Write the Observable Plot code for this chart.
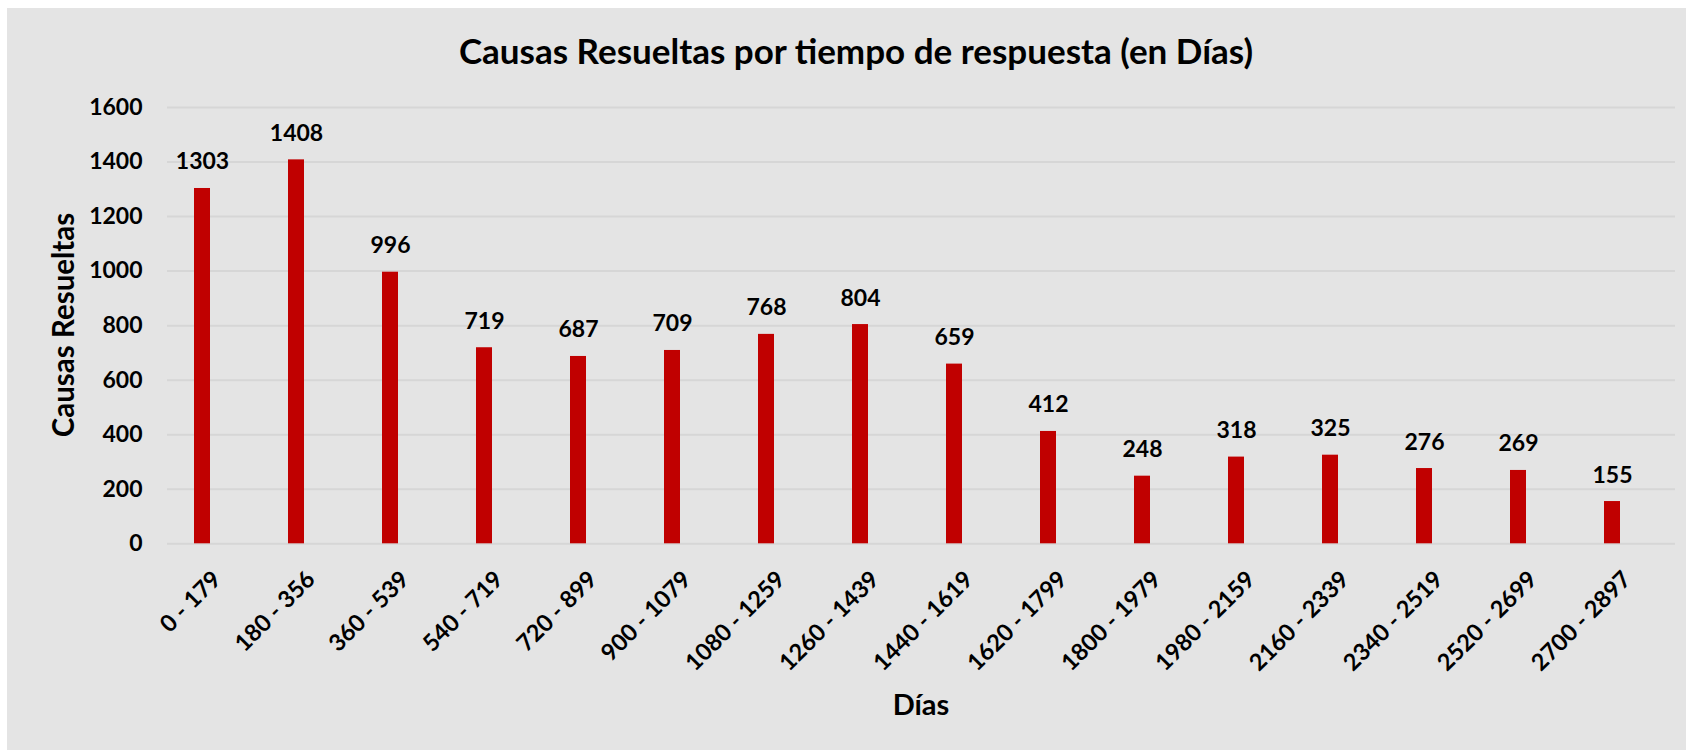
<!DOCTYPE html>
<html>
<head>
<meta charset="utf-8">
<script src="https://cdn.jsdelivr.net/npm/d3@7"></script>
<script src="https://cdn.jsdelivr.net/npm/@observablehq/plot@0.6"></script>
<style>
  html, body { margin: 0; padding: 0; width: 1686px; height: 750px; overflow: hidden; background: #ffffff; font-family: Lato, "Open Sans", sans-serif; }
  #panel { position: absolute; left: 7px; top: 8px; width: 1679px; height: 742px; background: #e4e4e4; }
  #title { position: absolute; left: 0; width: 1712px; top: 33px; text-align: center; font-size: 35px; font-weight: bold; line-height: 35px; color: #000; white-space: nowrap; }
  #ylabel { position: absolute; left: 62px; top: 325px; transform: translate(-50%, -50%) rotate(-90deg); font-size: 29.5px; font-weight: bold; color: #000; white-space: nowrap; line-height: 29px; }
  #xlabel { position: absolute; left: 921px; top: 689px; transform: translateX(-50%); font-size: 29px; font-weight: bold; color: #000; line-height: 29px; white-space: nowrap; }
  #chart { position: absolute; left: 0; top: 80px; }
</style>
</head>
<body>
<div id="panel"></div>
<div id="title">Causas Resueltas por tiempo de respuesta (en Días)</div>
<div id="ylabel">Causas Resueltas</div>
<div id="xlabel">Días</div>
<div id="chart"></div>
<script>
const categories = ["0 - 179","180 - 356","360 - 539","540 - 719","720 - 899","900 - 1079","1080 - 1259","1260 - 1439","1440 - 1619","1620 - 1799","1800 - 1979","1980 - 2159","2160 - 2339","2340 - 2519","2520 - 2699","2700 - 2897"];
const values = [1303, 1408, 996, 719, 687, 709, 768, 804, 659, 412, 248, 318, 325, 276, 269, 155];
const yTicks = [0, 200, 400, 600, 800, 1000, 1200, 1400, 1600];

const data = categories.map((c, i) => ({cat: c, value: values[i]}));

const chart = Plot.plot({
  width: 1686,
  height: 600,
  marginTop: 27,
  marginBottom: 136.7,
  marginLeft: 153,
  marginRight: 25,
  style: {background: "transparent", fontFamily: "Lato, 'Open Sans', sans-serif", color: "#000", overflow: "visible"},
  x: {domain: categories, paddingInner: 0.83, paddingOuter: 0.415, label: null},
  y: {domain: [0, 1600], label: null},
  marks: [
    Plot.gridY(yTicks, {stroke: "#d6d6d6", strokeOpacity: 1, strokeWidth: 2, dx: 14}),
    Plot.barY(data, {x: "cat", y: "value", fill: "#c00000"}),
    Plot.text(data, {x: "cat", y: "value", text: d => String(d.value), dy: -19, lineAnchor: "bottom", fontSize: 23, fontWeight: "bold", fill: "#000"}),
    Plot.axisY(yTicks, {tickSize: 0, tickPadding: 11, tickFormat: d => String(d), fontSize: 23, fontWeight: "bold", label: null, fill: "#000"}),
    Plot.axisX({tickSize: 0, tickPadding: 37, tickRotate: -45, textAnchor: "end", lineAnchor: "bottom", dx: 20, fontSize: 23.5, fontWeight: "bold", label: null, fill: "#000"})
  ]
});
document.getElementById("chart").appendChild(chart);
</script>
</body>
</html>
